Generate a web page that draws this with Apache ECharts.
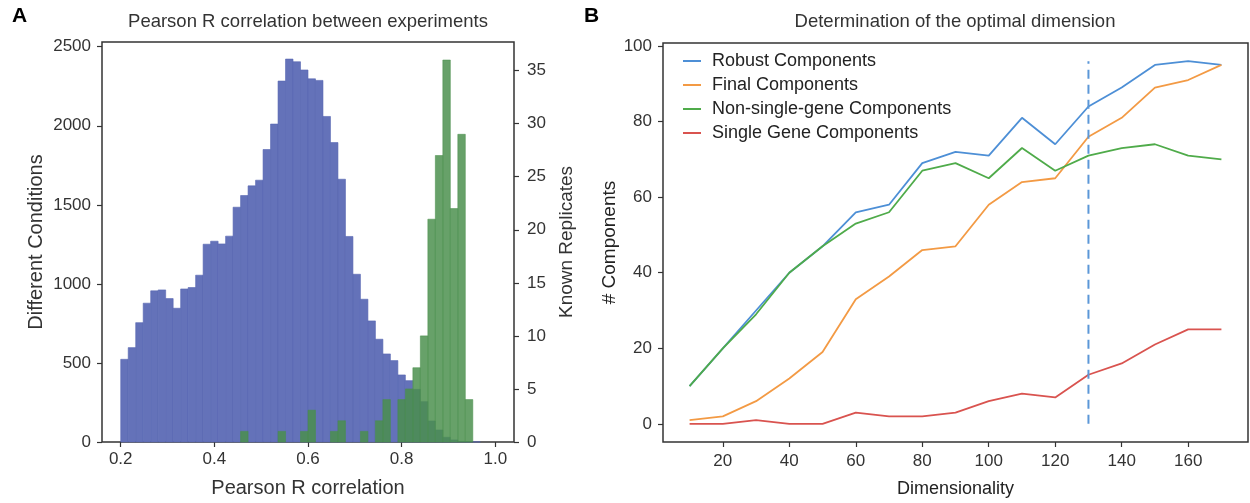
<!DOCTYPE html>
<html>
<head>
<meta charset="utf-8">
<script src="https://cdn.jsdelivr.net/npm/echarts@6/dist/echarts.min.js"></script>
<style>
  html, body { margin: 0; padding: 0; background: #fff; }
  #chart { width: 1250px; height: 503px; }
</style>
</head>
<body>
<div id="chart"></div>
<script>
// Panel A - histogram bins (shared by both series)
const binStart = 0.2;
const binWidth = 0.016;
const conditionCounts = [
  523, 597, 755, 878, 956, 962, 907, 846, 968, 977,
  1055, 1251, 1270, 1253, 1302, 1485, 1559, 1620, 1656, 1850,
  2011, 2283, 2422, 2405, 2353, 2297, 2287, 2059, 1894, 1662,
  1300, 1061, 903, 766, 650, 557, 515, 424, 388, 333,
  255, 133, 76, 30, 13, 4, 2, 1, 0, 0
];
const replicateCounts = [
  0, 0, 0, 0, 0, 0, 0, 0, 0, 0,
  0, 0, 0, 0, 0, 0, 1, 0, 0, 0,
  0, 1, 0, 0, 1, 3, 0, 0, 1, 2,
  0, 0, 1, 0, 2, 4, 0, 4, 5, 7,
  10, 21, 27, 36, 22, 29, 4, 0, 0, 0
];
const histXTicks = [0.2, 0.4, 0.6, 0.8, 1.0];
const conditionTicks = [0, 500, 1000, 1500, 2000, 2500];
const replicateTicks = [0, 5, 10, 15, 20, 25, 30, 35];

// Panel B - components vs dimensionality
const dims = [10, 20, 30, 40, 50, 60, 70, 80, 90, 100, 110, 120, 130, 140, 150, 160, 170];
const robustComponents = [10, 20, 30, 40, 47, 56, 58, 69, 72, 71, 81, 74, 84, 89, 95, 96, 95];
const finalComponents = [1, 2, 6, 12, 19, 33, 39, 46, 47, 58, 64, 65, 76, 81, 89, 91, 95];
const nonSingleComponents = [10, 20, 29, 40, 47, 53, 56, 67, 69, 65, 73, 67, 71, 73, 74, 71, 70];
const singleGeneComponents = [0, 0, 1, 0, 0, 3, 2, 2, 3, 6, 8, 7, 13, 16, 21, 25, 25];
const optimalDim = 130;
const optimalSpan = [0, 96];
const dimTicks = [20, 40, 60, 80, 100, 120, 140, 160];
const componentTicks = [0, 20, 40, 60, 80, 100];

const FONT = 'Liberation Sans, Arial, sans-serif';
const INK = '#333';

function binData(counts) {
  return counts.map((c, i) => [binStart + i * binWidth, binStart + (i + 1) * binWidth, c]);
}

function makeBinRenderer(fill, stroke) {
  return function(params, api) {
    const h = api.value(2);
    if (!h) return null;
    const p0 = api.coord([api.value(0), h]);
    const p1 = api.coord([api.value(1), 0]);
    return {
      type: 'rect',
      shape: { x: p0[0], y: p0[1], width: p1[0] - p0[0], height: p1[1] - p0[1] },
      style: { fill: fill, stroke: stroke, lineWidth: 0.6 }
    };
  };
}

function axisCommon(ticks, fmt, margin) {
  return {
    axisLine: { show: false, onZero: false },
    axisTick: { show: true, inside: false, length: 5, customValues: ticks, lineStyle: { color: INK, width: 1.2 } },
    axisLabel: { customValues: ticks, formatter: fmt, color: INK, fontFamily: FONT, fontSize: 17, margin: margin },
    splitLine: { show: false }
  };
}

const chart = echarts.init(document.getElementById('chart'), null, { renderer: 'canvas' });

const option = {
  animation: false,
  backgroundColor: '#fff',
  grid: [
    { left: 102, top: 42, width: 412, height: 400, show: true, borderColor: INK, borderWidth: 1.5, backgroundColor: 'transparent' },
    { left: 663, top: 43, width: 585, height: 400, show: true, borderColor: INK, borderWidth: 1.5, backgroundColor: 'transparent' }
  ],
  xAxis: [
    Object.assign({
      type: 'value', gridIndex: 0, min: 0.16, max: 1.04,
      name: 'Pearson R correlation', nameLocation: 'middle', nameGap: 36,
      nameTextStyle: { color: INK, fontFamily: FONT, fontSize: 20 }
    }, axisCommon(histXTicks, v => v.toFixed(1), 9)),
    Object.assign({
      type: 'value', gridIndex: 1, min: 2, max: 178,
      name: 'Dimensionality', nameLocation: 'middle', nameGap: 38,
      nameTextStyle: { color: '#222', fontFamily: FONT, fontSize: 18 }
    }, axisCommon(dimTicks, v => String(v), 11))
  ],
  yAxis: [
    Object.assign({
      type: 'value', gridIndex: 0, min: 0, max: 2530,
      name: 'Different Conditions', nameLocation: 'middle', nameGap: 56,
      nameTextStyle: { color: INK, fontFamily: FONT, fontSize: 20 }
    }, axisCommon(conditionTicks, v => String(v), 11)),
    Object.assign({
      type: 'value', gridIndex: 0, position: 'right', min: 0, max: 37.7,
      name: 'Known Replicates', nameLocation: 'middle', nameGap: 43,
      nameRotate: 90,
      nameTextStyle: { color: INK, fontFamily: FONT, fontSize: 19 }
    }, axisCommon(replicateTicks, v => String(v), 13)),
    Object.assign({
      type: 'value', gridIndex: 1, min: -4.8, max: 100.8,
      name: '# Components', nameLocation: 'middle', nameGap: 44,
      nameTextStyle: { color: '#222', fontFamily: FONT, fontSize: 19 }
    }, axisCommon(componentTicks, v => String(v), 11))
  ],
  legend: {
    left: 678, top: 47, orient: 'vertical', itemGap: 6,
    icon: 'rect', itemWidth: 18, itemHeight: 2,
    textStyle: { color: '#222', fontFamily: FONT, fontSize: 18, padding: [0, 0, 0, 6] },
    data: ['Robust Components', 'Final Components', 'Non-single-gene Components', 'Single Gene Components']
  },
  graphic: [
    { type: 'text', left: 12, top: 6, style: { text: 'A', font: 'bold 21px ' + FONT, fill: '#000' } },
    { type: 'text', left: 584, top: 6, style: { text: 'B', font: 'bold 21px ' + FONT, fill: '#000' } },
    { type: 'text', x: 308, y: 22, style: { text: 'Pearson R correlation between experiments', font: '18.5px ' + FONT, fill: INK, align: 'center', verticalAlign: 'middle' } },
    { type: 'text', x: 955, y: 22, style: { text: 'Determination of the optimal dimension', font: '18.5px ' + FONT, fill: INK, align: 'center', verticalAlign: 'middle' } }
  ],
  series: [
    {
      name: 'Different Conditions', type: 'custom', xAxisIndex: 0, yAxisIndex: 0,
      renderItem: makeBinRenderer('#6472b9', '#5867b2'),
      encode: { x: [0, 1], y: 2 },
      data: binData(conditionCounts)
    },
    {
      name: 'Known Replicates', type: 'custom', xAxisIndex: 0, yAxisIndex: 1,
      renderItem: makeBinRenderer('rgba(74,143,76,0.84)', 'rgba(74,143,76,0.9)'),
      encode: { x: [0, 1], y: 2 },
      data: binData(replicateCounts)
    },
    {
      name: 'Robust Components', type: 'line', xAxisIndex: 1, yAxisIndex: 2,
      data: dims.map((d, i) => [d, robustComponents[i]]),
      showSymbol: false, lineStyle: { color: '#4d8fd6', width: 1.8 }, itemStyle: { color: '#4d8fd6' }
    },
    {
      name: 'Final Components', type: 'line', xAxisIndex: 1, yAxisIndex: 2,
      data: dims.map((d, i) => [d, finalComponents[i]]),
      showSymbol: false, lineStyle: { color: '#f39a44', width: 1.8 }, itemStyle: { color: '#f39a44' }
    },
    {
      name: 'Non-single-gene Components', type: 'line', xAxisIndex: 1, yAxisIndex: 2,
      data: dims.map((d, i) => [d, nonSingleComponents[i]]),
      showSymbol: false, lineStyle: { color: '#4fab4a', width: 1.8 }, itemStyle: { color: '#4fab4a' }
    },
    {
      name: 'Single Gene Components', type: 'line', xAxisIndex: 1, yAxisIndex: 2,
      data: dims.map((d, i) => [d, singleGeneComponents[i]]),
      showSymbol: false, lineStyle: { color: '#d9534f', width: 1.8 }, itemStyle: { color: '#d9534f' }
    },
    {
      name: 'Optimal', type: 'line', xAxisIndex: 1, yAxisIndex: 2,
      data: optimalSpan.map(v => [optimalDim, v]),
      showSymbol: false, silent: true,
      lineStyle: { color: '#5b97d8', width: 2, type: [9, 6] }
    }
  ]
};

chart.setOption(option);
</script>
</body>
</html>
